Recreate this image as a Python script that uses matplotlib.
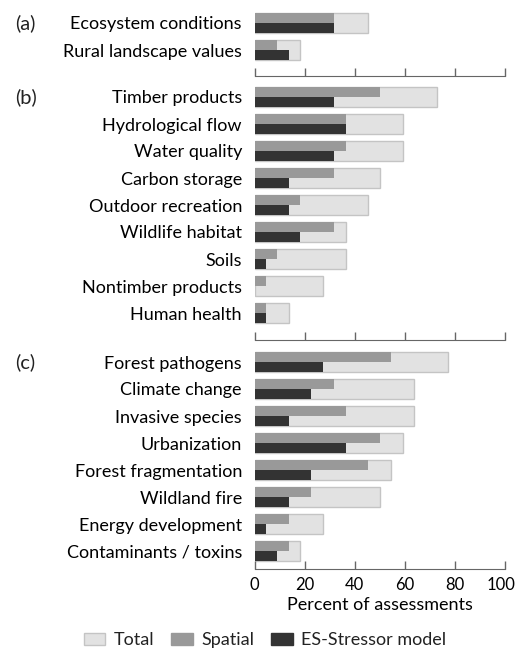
import matplotlib
matplotlib.use("Agg")
import matplotlib.pyplot as plt
import matplotlib.transforms as mtransforms
from matplotlib.patches import Patch

plt.rcParams['font.family'] = ['Lato', 'DejaVu Sans']
plt.rcParams['text.color'] = '#222222'

# percent of assessments
a_labels = ["Ecosystem conditions", "Rural landscape values"]
a_total = [45.5, 18.2]
a_spatial = [31.8, 9.1]
a_es = [31.8, 13.6]

b_labels = ["Timber products", "Hydrological flow", "Water quality",
            "Carbon storage", "Outdoor recreation", "Wildlife habitat",
            "Soils", "Nontimber products", "Human health"]
b_total = [72.7, 59.1, 59.1, 50.0, 45.5, 36.4, 36.4, 27.3, 13.6]
b_spatial = [50.0, 36.4, 36.4, 31.8, 18.2, 31.8, 9.1, 4.5, 4.5]
b_es = [31.8, 36.4, 31.8, 13.6, 13.6, 18.2, 4.5, 0.0, 4.5]

c_labels = ["Forest pathogens", "Climate change", "Invasive species",
            "Urbanization", "Forest fragmentation", "Wildland fire",
            "Energy development", "Contaminants / toxins"]
c_total = [77.3, 63.6, 63.6, 59.1, 54.5, 50.0, 27.3, 18.2]
c_spatial = [54.5, 31.8, 36.4, 50.0, 45.5, 22.7, 13.6, 13.6]
c_es = [27.3, 22.7, 13.6, 36.4, 22.7, 13.6, 4.5, 9.1]

col_total = '#e2e2e2'
col_edge = '#c4c4c4'
col_spatial = '#999999'
col_es = '#333333'
axcol = '#666666'
FS = 13

W, H = 518, 649
fig = plt.figure(figsize=(W / 100, H / 100), dpi=100)

# (tag, labels, total, spatial, es, top px, axis px, first centre px)
panels = [
    ("(a)", a_labels, a_total, a_spatial, a_es, 9.5, 76, 23),
    ("(b)", b_labels, b_total, b_spatial, b_es, 83.5, 340, 97),
    ("(c)", c_labels, c_total, c_spatial, c_es, 348.5, 569, 362),
]

x0, x1 = 254.5, 505
for k, (tag, labels, tot, spa, es, top, bot, c0) in enumerate(panels):
    ax = fig.add_axes([x0 / W, 1 - bot / H, (x1 - x0) / W, (bot - top) / H])
    n = len(labels)
    y = list(range(n))
    ax.barh(y, tot, height=0.74, color=col_total, edgecolor=col_edge, linewidth=1)
    ax.barh([v - 0.185 for v in y], spa, height=0.37, color=col_spatial, linewidth=0)
    ax.barh([v + 0.185 for v in y], es, height=0.37, color=col_es, linewidth=0)
    ax.set_xlim(0, 100)
    ax.set_ylim((bot - c0) / 27, -0.5)
    ax.set_yticks(y)
    ax.set_yticklabels(labels, fontsize=FS)
    ax.tick_params(axis='y', length=0, pad=9)
    for s in ['top', 'right', 'left']:
        ax.spines[s].set_visible(False)
    ax.spines['bottom'].set_color(axcol)
    ax.set_xticks([0, 20, 40, 60, 80, 100])
    ax.tick_params(axis='x', direction='in', length=6, color=axcol, width=1,
                   labelsize=12, pad=6)
    if k < 2:
        ax.set_xticklabels([])
    else:
        ax.set_xlabel("Percent of assessments", fontsize=FS, labelpad=3)
        # keep "100" inside the canvas
        last = ax.get_xticklabels()[-1]
        last.set_transform(last.get_transform() +
                           mtransforms.ScaledTranslation(-4 / 100, 0, fig.dpi_scale_trans))
    fig.text(15 / W, 1 - c0 / H, tag, fontsize=FS + 1.5, va='center', ha='left')

handles = [Patch(facecolor=col_total, edgecolor=col_edge, label="Total"),
           Patch(facecolor=col_spatial, edgecolor=col_spatial, label="Spatial"),
           Patch(facecolor=col_es, edgecolor=col_es, label="ES-Stressor model")]
fig.legend(handles=handles, loc='center', bbox_to_anchor=(265 / W, 1 - 640 / H),
           ncol=3, frameon=False, fontsize=FS, handlelength=1.2, handleheight=0.65,
           handletextpad=0.45, columnspacing=0.95, borderpad=0)

fig.savefig("out.png", dpi=100)
